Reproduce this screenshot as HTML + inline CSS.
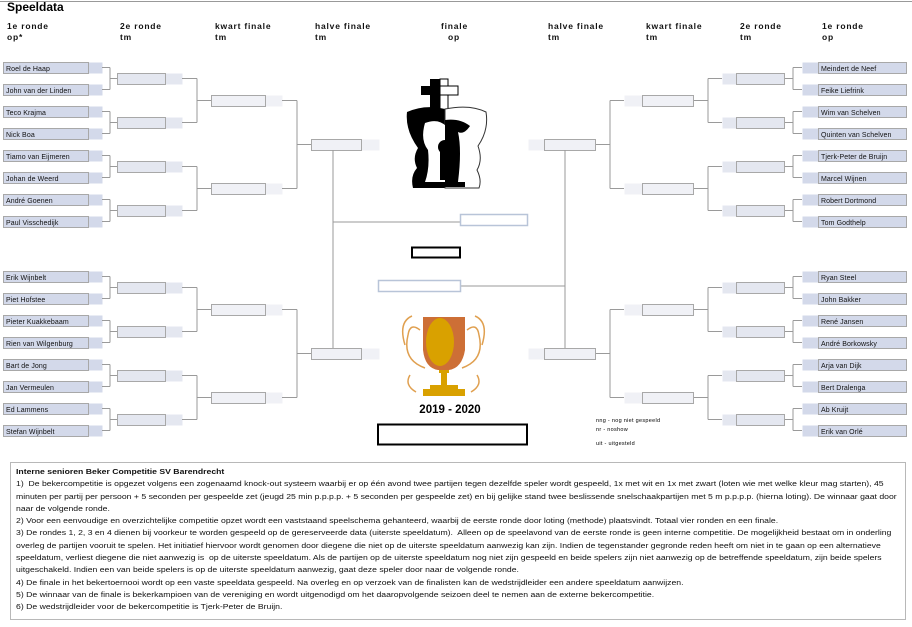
<!DOCTYPE html>
<html><head><meta charset="utf-8"><style>
html,body{margin:0;padding:0;background:#fff;width:912px;height:627px;overflow:hidden;position:relative;font-family:"Liberation Sans",sans-serif}
svg{position:absolute;left:0;top:0}
.nm{font-family:"Liberation Sans",sans-serif;font-size:7px;fill:#111;letter-spacing:0.1px}
.hd{font-family:"Liberation Sans",sans-serif;font-size:8.5px;font-weight:bold;fill:#111;letter-spacing:0.8px}
#tb{position:absolute;left:10px;top:462px;width:896px;height:158px;border:1px solid #b8b8b8;box-sizing:border-box;overflow:hidden}
#ti{position:absolute;left:5px;top:3px;transform:scaleX(1.14);transform-origin:0 0;font-family:"Liberation Sans Narrow","Liberation Sans",sans-serif;font-size:7.6px;line-height:12.3px;color:#111;white-space:nowrap}
</style></head><body>
<svg width="912" height="627" viewBox="0 0 912 627" id="s">
<line x1="0" y1="1.5" x2="912" y2="1.5" stroke="#999" stroke-width="1"/>
<text x="7" y="11" style="font-size:12px;font-weight:bold;fill:#000">Speeldata</text>
<text class="hd" x="7" y="29">1e ronde</text><text class="hd" x="7" y="40">op*</text>
<text class="hd" x="120" y="29">2e ronde</text><text class="hd" x="120" y="40">tm</text>
<text class="hd" x="215" y="29">kwart finale</text><text class="hd" x="215" y="40">tm</text>
<text class="hd" x="315" y="29">halve finale</text><text class="hd" x="315" y="40">tm</text>
<text class="hd" x="441" y="29">finale</text><text class="hd" x="448" y="40">op</text>
<text class="hd" x="548" y="29">halve finale</text><text class="hd" x="548" y="40">tm</text>
<text class="hd" x="646" y="29">kwart finale</text><text class="hd" x="646" y="40">tm</text>
<text class="hd" x="740" y="29">2e ronde</text><text class="hd" x="740" y="40">tm</text>
<text class="hd" x="822" y="29">1e ronde</text><text class="hd" x="822" y="40">op</text>
<g id="g"></g>
<line x1="333" y1="222" x2="460" y2="222" stroke="#999"/>
<rect x="460.5" y="214.5" width="67" height="11" fill="#fff" stroke="#b8c4d8" stroke-width="1.5"/>
<line x1="565" y1="286" x2="460" y2="286" stroke="#999"/>
<rect x="378.5" y="280.5" width="82" height="11" fill="#fff" stroke="#b8c4d8" stroke-width="1.5"/>
<rect x="412" y="247.5" width="48" height="10" fill="#fff" stroke="#000" stroke-width="2"/>
<rect x="378" y="424.5" width="149" height="20" fill="#fff" stroke="#000" stroke-width="2"/>
<g>
<rect x="430" y="79" width="10" height="32" fill="#000"/><rect x="421" y="86" width="19" height="9" fill="#000"/>
<rect x="440" y="79" width="8" height="32" fill="#fff" stroke="#000"/><rect x="440" y="86" width="18" height="9" fill="#fff" stroke="#000"/>
<path d="M407,112 Q425,104 445,109 L445,188 L413,188 Q410,176 417,168 Q412,158 418,148 Q405,130 407,112Z" fill="#000"/>
<path d="M445,109 Q470,104 486,112 Q489,130 478,146 Q483,160 477,170 Q482,180 479,188 L445,188Z" fill="#fff" stroke="#333"/>
<path d="M425,123 Q438,118 446,126 L448,160 Q440,170 446,182 L425,182 Q430,168 428,150 Q420,140 425,123Z" fill="#fff"/>
<path d="M445,120 Q460,118 470,126 Q464,135 458,132 Q462,150 458,182 L445,182Z" fill="#000"/>
<circle cx="445" cy="147" r="7" fill="#000"/><rect x="440" y="152" width="10" height="28" fill="#000"/>
<rect x="433" y="182" width="32" height="5" fill="#000"/>
</g>
<g>
<path d="M405,345 Q398,322 412,316 M420,330 Q410,322 408,335 Q402,360 425,368 M410,375 Q404,385 416,392" fill="none" stroke="#e0a050" stroke-width="1.5"/>
<path d="M482,345 Q489,322 475,316 M467,330 Q477,322 479,335 Q485,360 462,368 M477,375 Q483,385 471,392" fill="none" stroke="#e0a050" stroke-width="1.5"/>
<path d="M423,317 L465,317 L465,350 Q462,368 449,370 L438,370 Q425,368 423,350Z" fill="#cd6f36"/>
<ellipse cx="440" cy="342" rx="14" ry="24" fill="#d9a100"/>
<rect x="439" y="370" width="10" height="3" fill="#d9a100"/><rect x="441" y="373" width="6" height="14" fill="#d9a100"/>
<rect x="430" y="385" width="28" height="4" fill="#d9a100"/><rect x="423" y="389" width="42" height="7" fill="#d9a100"/>
</g>
<text x="450" y="413" text-anchor="middle" style="font-size:11.5px;font-weight:bold;fill:#000">2019 - 2020</text>
<text x="596" y="422" style="font-size:5.5px;fill:#000;letter-spacing:0.3px">nng - nog niet gespeeld</text>
<text x="596" y="431" style="font-size:5.5px;fill:#000;letter-spacing:0.3px">nr - noshow</text>
<text x="596" y="445" style="font-size:5.5px;fill:#000;letter-spacing:0.3px">uit - uitgesteld</text>
<text class="nm" x="6" y="71">Roel de Haap</text>
<text class="nm" x="6" y="93">John van der Linden</text>
<text class="nm" x="6" y="115">Teco Krajma</text>
<text class="nm" x="6" y="137">Nick Boa</text>
<text class="nm" x="6" y="159">Tiamo van Eijmeren</text>
<text class="nm" x="6" y="181">Johan de Weerd</text>
<text class="nm" x="6" y="203">André Goenen</text>
<text class="nm" x="6" y="225">Paul Visschedijk</text>
<text class="nm" x="6" y="280">Erik Wijnbelt</text>
<text class="nm" x="6" y="302">Piet Hofstee</text>
<text class="nm" x="6" y="324">Pieter Kuakkebaam</text>
<text class="nm" x="6" y="346">Rien van Wilgenburg</text>
<text class="nm" x="6" y="368">Bart de Jong</text>
<text class="nm" x="6" y="390">Jan Vermeulen</text>
<text class="nm" x="6" y="412">Ed Lammens</text>
<text class="nm" x="6" y="434">Stefan Wijnbelt</text>
<text class="nm" x="821" y="71">Meindert de Neef</text>
<text class="nm" x="821" y="93">Feike Liefrink</text>
<text class="nm" x="821" y="115">Wim van Schelven</text>
<text class="nm" x="821" y="137">Quinten van Schelven</text>
<text class="nm" x="821" y="159">Tjerk-Peter de Bruijn</text>
<text class="nm" x="821" y="181">Marcel Wijnen</text>
<text class="nm" x="821" y="203">Robert Dortmond</text>
<text class="nm" x="821" y="225">Tom Godthelp</text>
<text class="nm" x="821" y="280">Ryan Steel</text>
<text class="nm" x="821" y="302">John Bakker</text>
<text class="nm" x="821" y="324">René Jansen</text>
<text class="nm" x="821" y="346">André Borkowsky</text>
<text class="nm" x="821" y="368">Arja van Dijk</text>
<text class="nm" x="821" y="390">Bert Dralenga</text>
<text class="nm" x="821" y="412">Ab Kruijt</text>
<text class="nm" x="821" y="434">Erik van Orlé</text>
</svg>
<div id="tb"><div id="ti"><b>Interne senioren Beker Competitie SV Barendrecht</b><br>
1)&nbsp; De bekercompetitie is opgezet volgens een zogenaamd knock-out systeem waarbij er op één avond twee partijen tegen dezelfde speler wordt gespeeld, 1x met wit en 1x met zwart (loten wie met welke kleur mag starten), 45<br>
minuten per partij per persoon + 5 seconden per gespeelde zet (jeugd 25 min p.p.p.p. + 5 seconden per gespeelde zet) en bij gelijke stand twee beslissende snelschaakpartijen met 5 m p.p.p.p. (hierna loting). De winnaar gaat door<br>
naar de volgende ronde.<br>
2) Voor een eenvoudige en overzichtelijke competitie opzet wordt een vaststaand speelschema gehanteerd, waarbij de eerste ronde door loting (methode) plaatsvindt. Totaal vier ronden en een finale.<br>
3) De rondes 1, 2, 3 en 4 dienen bij voorkeur te worden gespeeld op de gereserveerde data (uiterste speeldatum).&nbsp; Alleen op de speelavond van de eerste ronde is geen interne competitie. De mogelijkheid bestaat om in onderling<br>
overleg de partijen vooruit te spelen. Het initiatief hiervoor wordt genomen door diegene die niet op de uiterste speeldatum aanwezig kan zijn. Indien de tegenstander gegronde reden heeft om niet in te gaan op een alternatieve<br>
speeldatum, verliest diegene die niet aanwezig is&nbsp; op de uiterste speeldatum. Als de partijen op de uiterste speeldatum nog niet zijn gespeeld en beide spelers zijn niet aanwezig op de betreffende speeldatum, zijn beide spelers<br>
uitgeschakeld. Indien een van beide spelers is op de uiterste speeldatum aanwezig, gaat deze speler door naar de volgende ronde.<br>
4) De finale in het bekertoernooi wordt op een vaste speeldata gespeeld. Na overleg en op verzoek van de finalisten kan de wedstrijdleider een andere speeldatum aanwijzen.<br>
5) De winnaar van de finale is bekerkampioen van de vereniging en wordt uitgenodigd om het daaropvolgende seizoen deel te nemen aan de externe bekercompetitie.<br>
6) De wedstrijdleider voor de bekercompetitie is Tjerk-Peter de Bruijn.</div></div>
<script>
(function(){
var g=document.getElementById('g'),h='';
function R(x,y,w,hh,f,s){h+='<rect x="'+(x+.5)+'" y="'+(y+.5)+'" width="'+w+'" height="'+hh+'" fill="'+f+'"'+(s?' stroke="#a8a8a8"':'')+'/>';}
function L(a,b,c,d){h+='<line x1="'+a+'" y1="'+b+'" x2="'+c+'" y2="'+d+'" stroke="#9a9a9a"/>';}
var top=[62,84,106,128,150,172,194,216],bot=[271,293,315,337,359,381,403,425];
[top,bot].forEach(function(rows){
 var c1=rows.map(function(y){return y+5.5});
 var c2=[],c3=[],c4,i;
 for(i=0;i<8;i+=2)c2.push((c1[i]+c1[i+1])/2);
 for(i=0;i<4;i+=2)c3.push((c2[i]+c2[i+1])/2);
 c4=(c3[0]+c3[1])/2;
 rows.forEach(function(y){R(88,y,14,11,'#d3d9ea');R(3,y,85,11,'#d3d9ea',1);});
 for(i=0;i<4;i++){L(102,c1[2*i],110,c1[2*i]);L(102,c1[2*i+1],110,c1[2*i+1]);L(110,c1[2*i],110,c1[2*i+1]);L(110,c2[i],117,c2[i]);
   R(165,c2[i]-5.5,17,11,'#e4e7f0');R(117,c2[i]-5.5,48,11,'#e4e7f0',1);}
 for(i=0;i<2;i++){L(182,c2[2*i],197,c2[2*i]);L(182,c2[2*i+1],197,c2[2*i+1]);L(197,c2[2*i],197,c2[2*i+1]);L(197,c3[i],211,c3[i]);
   R(265,c3[i]-5.5,17,11,'#f0f1f6');R(211,c3[i]-5.5,54,11,'#f0f1f6',1);}
 L(282,c3[0],297,c3[0]);L(282,c3[1],297,c3[1]);L(297,c3[0],297,c3[1]);L(297,c4,311,c4);
 R(361,c4-5.5,18,11,'#f0f1f6');R(311,c4-5.5,50,11,'#f0f1f6',1);
 rows.forEach(function(y){R(802,y,16,11,'#d3d9ea');R(818,y,88,11,'#d3d9ea',1);});
 for(i=0;i<4;i++){L(802,c1[2*i],793,c1[2*i]);L(802,c1[2*i+1],793,c1[2*i+1]);L(793,c1[2*i],793,c1[2*i+1]);L(793,c2[i],784,c2[i]);
   R(722,c2[i]-5.5,14,11,'#e4e7f0');R(736,c2[i]-5.5,48,11,'#e4e7f0',1);}
 for(i=0;i<2;i++){L(722,c2[2*i],708,c2[2*i]);L(722,c2[2*i+1],708,c2[2*i+1]);L(708,c2[2*i],708,c2[2*i+1]);L(708,c3[i],693,c3[i]);
   R(624,c3[i]-5.5,18,11,'#f0f1f6');R(642,c3[i]-5.5,51,11,'#f0f1f6',1);}
 L(624,c3[0],610,c3[0]);L(624,c3[1],610,c3[1]);L(610,c3[0],610,c3[1]);L(610,c4,595,c4);
 R(528,c4-5.5,16,11,'#f0f1f6');R(544,c4-5.5,51,11,'#f0f1f6',1);
});
L(333,150,333,348);L(565,150,565,348);
g.innerHTML=h;
})();
</script>
</body></html>
